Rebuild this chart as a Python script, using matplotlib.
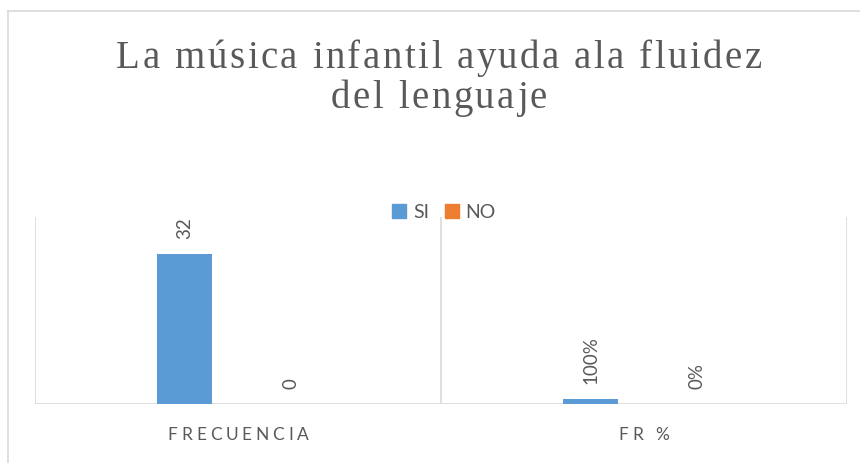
import matplotlib
matplotlib.use('Agg')
import matplotlib.pyplot as plt
from matplotlib.font_manager import FontProperties, findfont, get_font
from matplotlib.patches import Patch
from matplotlib.lines import Line2D


categorias = ['FRECUENCIA', 'FR %']
series = ['SI', 'NO']
valores_si = [32, 1]
valores_no = [0, 0]
etiquetas_si = ['32', '100%']
etiquetas_no = ['0', '0%']
titulo = ['La música infantil ayuda ala fluidez', 'del lenguaje']

GRIS_TEXTO = '#595959'
GRIS_LINEA = '#d9d9d9'
AZUL = '#5B9BD5'
NARANJA = '#ED7D31'

DPI = 100
W, H = 860, 464

# ========================================================================================================
# Texto con espaciado entre letras (matplotlib no lo tiene), posiciones en pixeles desde arriba
# ========================================================================================================

def anchos_px(texto, prop):
    font = get_font(findfont(prop))
    font.set_size(prop.get_size_in_points(), DPI)
    return [font.load_char(ord(c)).linearHoriAdvance / 65536 for c in texto]


def texto_espaciado(fig, x, y, texto, prop, espacio, color=GRIS_TEXTO):
    anchos = anchos_px(texto, prop)
    total = sum(anchos) + espacio * (len(texto) - 1)
    pos = x - total / 2
    for c, a in zip(texto, anchos):
        if c != ' ':
            fig.text((pos + a / 2) / W, (H - y) / H, c, fontproperties=prop,
                     color=color, ha='center', va='baseline')
        pos += a + espacio


fig = plt.figure(figsize=(W / DPI, H / DPI), dpi=DPI)
fig.patch.set_facecolor('white')

# marco exterior del grafico (cortado a la derecha y abajo)
fig.add_artist(Line2D([8 / W, 1.0], [1 - 12 / H, 1 - 12 / H], color=GRIS_LINEA, lw=1.2))
fig.add_artist(Line2D([8 / W, 8 / W], [0.0, 1 - 12 / H], color=GRIS_LINEA, lw=1.2))

ax = fig.add_axes([35 / W, (H - 405) / H, (847 - 35) / W, (405 - 218) / H])
ax.set_xlim(-0.5, len(categorias) - 0.5)
ax.set_ylim(0, 40)
for s in ax.spines.values():
    s.set_visible(False)
ax.set_xticks([])
ax.set_yticks([])

for xv in [i - 0.5 for i in range(len(categorias) + 1)]:
    ax.axvline(xv, color=GRIS_LINEA, lw=1.2, zorder=1)
ax.axhline(0, color=GRIS_LINEA, lw=1.2, zorder=1)

x = list(range(len(categorias)))
ancho = 0.136
desp = 0.131
b1 = ax.bar([i - desp for i in x], valores_si, width=ancho, color=AZUL, zorder=2)
b2 = ax.bar([i + desp for i in x], valores_no, width=ancho, color=NARANJA, zorder=2)

prop_dato = FontProperties(family='Lato', size=13.5)
for barras, etiquetas in [(b1, etiquetas_si), (b2, etiquetas_no)]:
    for rect, et in zip(barras, etiquetas):
        ax.annotate(et, xy=(rect.get_x() + rect.get_width() / 2, rect.get_height()),
                    xytext=(0, 11.5), textcoords='offset points', rotation=90,
                    ha='center', va='bottom', color=GRIS_TEXTO, fontproperties=prop_dato)

# etiquetas de categorias
prop_cat = FontProperties(family='Lato', size=12.5)
for i, cat in enumerate(categorias):
    xp = ax.transData.transform((i, 0))[0]
    texto_espaciado(fig, xp, 440, cat, prop_cat, 3.8)

# titulo
prop_tit = FontProperties(family='Liberation Serif', size=28)
texto_espaciado(fig, 439, 68, titulo[0], prop_tit, 2.5)
texto_espaciado(fig, 439, 108, titulo[1], prop_tit, 2.5)

fig.legend(handles=[Patch(color=AZUL), Patch(color=NARANJA)], labels=series,
           loc='center', bbox_to_anchor=(444 / W, 1 - 213 / H), ncol=2, frameon=False,
           prop=FontProperties(family='Lato', size=14), labelcolor=GRIS_TEXTO,
           handlelength=0.72, handleheight=0.72, handletextpad=0.35, columnspacing=0.8,
           borderpad=0.1)

fig.savefig('out.png', dpi=DPI)
